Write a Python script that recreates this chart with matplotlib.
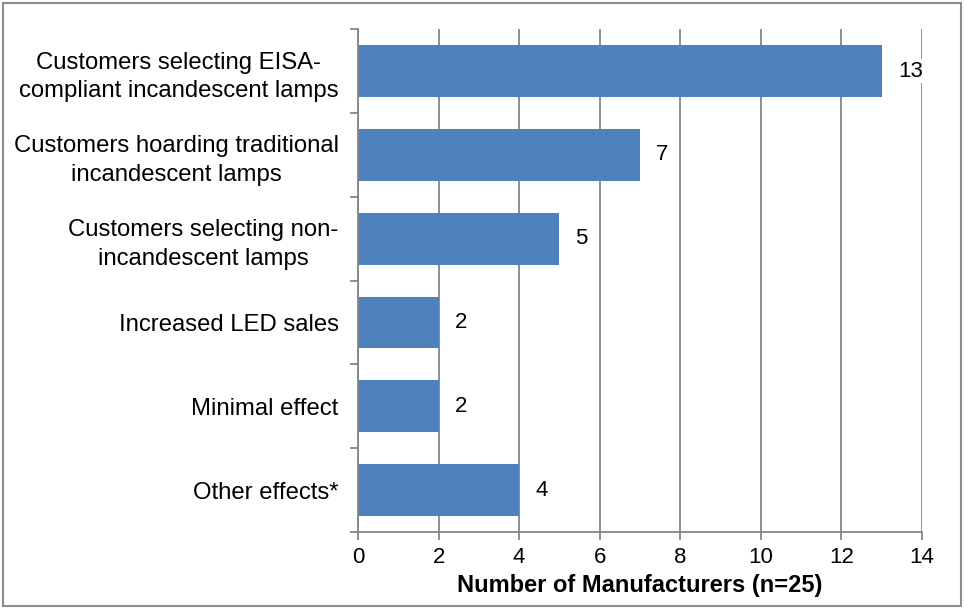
import matplotlib.pyplot as plt
from matplotlib.patches import Rectangle

plt.rcParams['font.family'] = ['Liberation Sans', 'DejaVu Sans']

effects = ['Customers selecting EISA-\ncompliant incandescent lamps',
           'Customers hoarding traditional\nincandescent lamps',
           'Customers selecting non-\nincandescent lamps',
           'Increased LED sales',
           'Minimal effect',
           'Other effects*']
counts = [13, 7, 5, 2, 2, 4]
xticks = [0, 2, 4, 6, 8, 10, 12, 14]

bar_color = '#4F81BD'
grid_color = '#868686'

fig = plt.figure(figsize=(9.64, 6.08), dpi=100)
ax = fig.add_axes([0.3714, 0.125, 0.585, 0.827])

ypos = list(range(len(effects)))[::-1]
ax.barh(ypos, counts, height=0.62, color=bar_color, zorder=2)

for y, v in zip(ypos, counts):
    ax.text(v + 0.4, y, str(v), va='center', ha='left', fontsize=16, zorder=3,
            bbox=dict(facecolor='white', edgecolor='none', pad=1))

ax.set_xlim(0, 14)
ax.set_ylim(-0.5, len(effects) - 0.5)
ax.set_xticks(xticks)
ax.tick_params(axis='x', labelsize=16, color=grid_color, length=6, width=1.3, pad=5)
ax.xaxis.grid(True, color=grid_color, linewidth=1.3, zorder=0)
ax.set_axisbelow(True)

# category labels centred between boundary ticks
ax.set_yticks(ypos)
ax.set_yticklabels(effects, fontsize=17.2, multialignment='center', linespacing=1.4)
ax.tick_params(axis='y', length=0, pad=14)
ax.set_yticks([i - 0.5 for i in range(len(effects) + 1)], minor=True)
ax.tick_params(axis='y', which='minor', length=6, width=1.3, color=grid_color)

for side in ['top', 'right']:
    ax.spines[side].set_visible(False)
for side in ['left', 'bottom']:
    ax.spines[side].set_color(grid_color)
    ax.spines[side].set_linewidth(1.3)

ax.set_xlabel('Number of Manufacturers (n=25)', fontsize=17, fontweight='bold', labelpad=4)

fig.patches.append(Rectangle((0.003, 0.003), 0.994, 0.992, transform=fig.transFigure,
                             fill=False, edgecolor='#8C8C8C', linewidth=1.5))

fig.savefig('out.png', dpi=100)
